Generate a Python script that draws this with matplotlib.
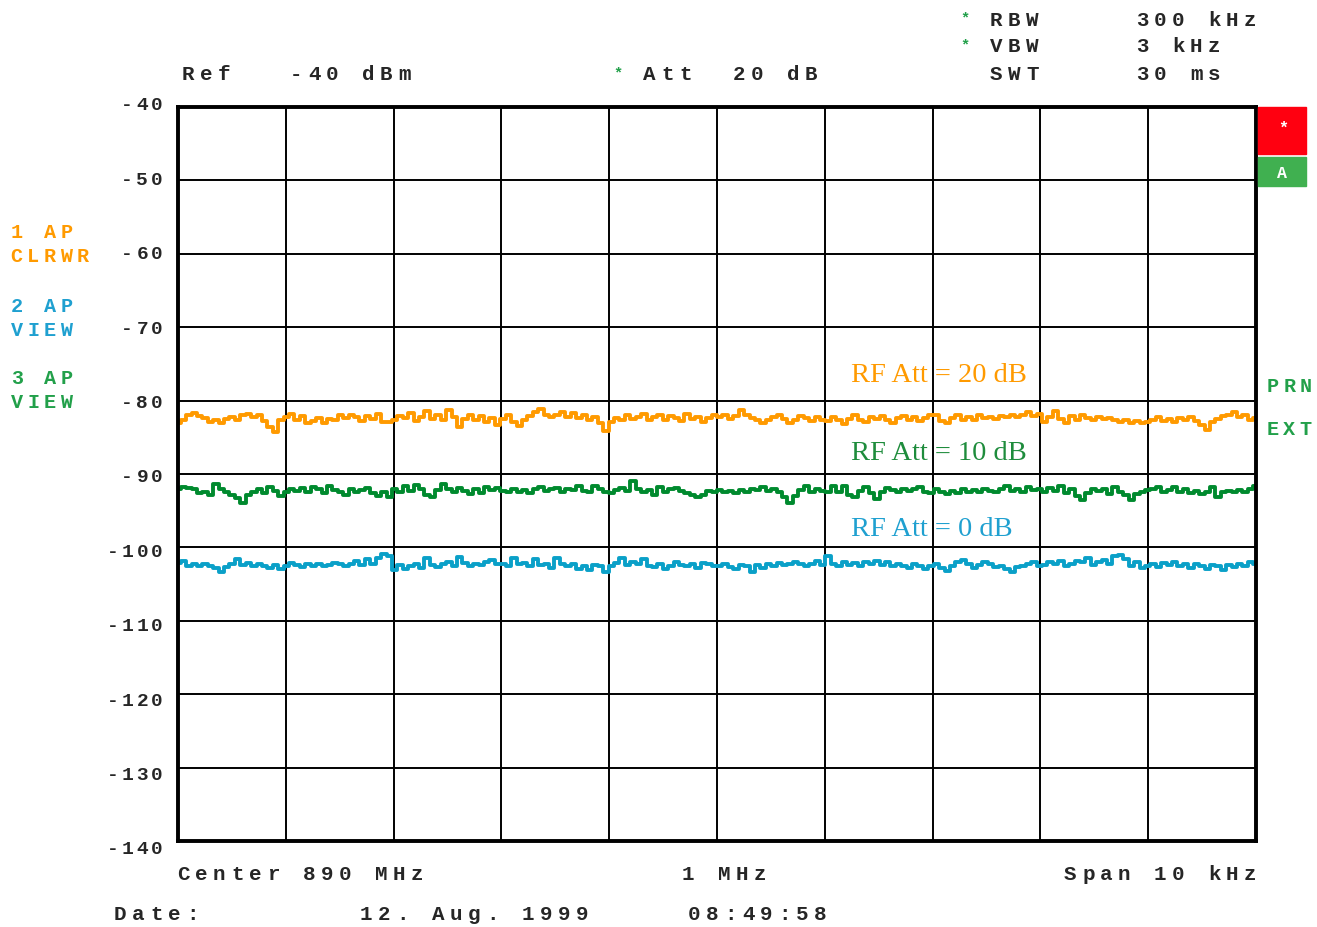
import numpy as np
import matplotlib.pyplot as plt
from matplotlib.patches import Rectangle

trace1_att20 = [
    -83.0, -82.6, -81.9, -81.7, -82.1, -82.4, -82.9, -82.6, -83.0, -82.5, -82.2, -82.6, -82.0, -81.8, -82.3, -82.0, -82.8, -83.6, -84.3, -82.6,
    -82.2, -81.8, -82.6, -82.1, -83.1, -82.8, -82.4, -83.0, -82.5, -82.7, -82.0, -82.4, -81.9, -82.3, -82.8, -82.1, -82.5, -81.8, -82.9, -82.9,
    -82.6, -82.1, -82.4, -81.7, -82.8, -82.2, -81.4, -82.5, -82.0, -82.6, -81.3, -82.2, -83.6, -82.5, -81.9, -82.7, -82.1, -82.9, -82.4, -83.3,
    -82.5, -82.0, -82.9, -83.4, -82.6, -82.1, -81.5, -81.1, -81.9, -82.3, -82.0, -81.6, -82.2, -81.7, -82.4, -82.0, -82.6, -82.3, -83.0, -84.1,
    -82.9, -82.4, -82.6, -82.0, -82.5, -82.2, -81.8, -82.7, -82.3, -81.9, -82.6, -82.1, -82.4, -82.8, -81.8, -82.5, -82.2, -82.9, -82.4, -82.0,
    -82.3, -81.9, -82.5, -82.1, -81.3, -82.0, -82.4, -82.7, -83.1, -82.6, -82.2, -81.9, -82.5, -83.0, -82.6, -82.1, -82.4, -82.8, -82.3, -82.6,
    -82.8, -82.3, -82.7, -83.2, -82.5, -82.0, -82.6, -82.9, -82.2, -82.5, -82.1, -82.7, -83.0, -82.4, -82.1, -82.6, -82.3, -82.8, -82.4, -82.0,
    -81.9, -82.8, -83.1, -82.4, -82.0, -82.7, -82.3, -82.6, -82.0, -82.4, -82.2, -82.5, -82.1, -82.3, -81.9, -82.2, -82.0, -81.6, -82.1, -81.8,
    -82.9, -82.2, -81.4, -82.5, -83.0, -82.1, -82.6, -81.9, -82.4, -82.7, -82.2, -82.5, -82.4, -82.7, -82.9, -82.6, -83.0, -82.8, -83.1, -82.9,
    -82.6, -82.3, -82.8, -82.5, -82.9, -82.4, -82.7, -82.2, -82.8, -83.3, -84.0, -82.9, -82.5, -82.1, -81.9, -81.5, -82.2, -81.9, -82.6, -82.4,
]
trace3_att10 = [
    -92.1, -91.8, -91.9, -92.0, -92.6, -92.4, -92.9, -91.3, -92.0, -92.5, -92.8, -93.3, -94.0, -92.9, -92.4, -92.1, -92.6, -91.8, -92.3, -93.0,
    -92.4, -92.0, -92.3, -91.9, -92.5, -91.8, -92.1, -92.6, -91.7, -92.2, -92.4, -92.9, -92.0, -92.5, -92.2, -91.9, -92.6, -93.0, -92.4, -93.1,
    -92.0, -92.4, -91.7, -92.3, -91.5, -92.1, -92.8, -93.1, -92.2, -91.4, -92.0, -92.5, -91.9, -92.3, -92.7, -92.1, -92.6, -91.8, -92.2, -91.9,
    -92.3, -92.5, -92.0, -92.4, -92.2, -92.6, -92.0, -91.8, -92.3, -92.1, -91.9, -92.4, -92.0, -92.2, -91.7, -92.3, -92.5, -91.6, -92.0, -92.4,
    -92.6, -92.2, -91.9, -92.3, -91.0, -92.1, -92.5, -92.2, -92.8, -91.8, -92.4, -92.1, -91.9, -92.3, -92.6, -92.9, -93.2, -92.8, -92.3, -92.4,
    -92.2, -92.5, -92.3, -92.6, -92.2, -92.5, -92.0, -92.2, -91.8, -92.3, -92.1, -92.4, -93.2, -94.0, -93.0, -92.2, -91.7, -92.4, -92.0, -92.3,
    -92.5, -91.6, -92.4, -91.7, -92.8, -93.2, -92.3, -91.8, -92.6, -93.4, -92.5, -91.9, -92.2, -92.4, -92.1, -92.3, -92.0, -91.8, -92.4, -92.6,
    -92.0, -92.4, -92.7, -92.3, -92.6, -92.1, -92.5, -92.2, -92.4, -92.0, -92.3, -92.5, -92.1, -91.7, -92.3, -92.0, -92.4, -91.8, -92.2, -92.1,
    -92.5, -91.9, -92.3, -91.7, -92.6, -92.1, -93.0, -93.5, -92.6, -92.0, -92.3, -92.1, -92.7, -91.8, -92.4, -92.9, -93.6, -92.7, -92.4, -92.2,
    -92.0, -91.8, -92.5, -92.2, -91.8, -92.4, -92.1, -92.6, -92.3, -92.7, -92.4, -91.8, -93.1, -92.5, -92.3, -92.4, -92.2, -92.5, -92.1, -91.7,
]
trace2_att0 = [
    -102.1, -101.8, -102.5, -102.2, -102.6, -102.3, -102.5, -102.8, -103.3, -102.7, -102.2, -101.6, -102.4, -102.1, -102.6, -102.3, -102.5, -102.8, -102.4, -102.9,
    -102.6, -102.1, -102.4, -102.7, -102.3, -102.5, -102.2, -102.6, -102.4, -102.1, -102.3, -102.5, -102.2, -101.9, -102.4, -101.6, -102.3, -101.4, -100.9, -101.2,
    -103.1, -102.4, -103.0, -102.6, -102.2, -102.8, -101.5, -102.4, -102.7, -102.3, -102.0, -102.6, -101.3, -102.1, -102.5, -102.2, -102.4, -102.0, -101.7, -102.2,
    -102.2, -102.5, -101.4, -102.3, -102.1, -102.6, -101.6, -102.4, -102.2, -102.8, -101.5, -102.3, -102.6, -102.2, -102.9, -102.5, -103.1, -102.4, -102.6, -103.3,
    -102.6, -102.1, -101.5, -102.4, -102.0, -102.3, -101.6, -102.5, -102.7, -102.2, -103.0, -102.5, -102.0, -102.4, -102.6, -102.2, -102.8, -102.1, -102.3, -102.5,
    -102.5, -102.3, -102.7, -102.9, -102.4, -102.6, -103.3, -102.4, -102.8, -102.2, -102.5, -102.1, -102.4, -102.3, -102.0, -102.3, -102.6, -102.2, -101.9, -102.4,
    -101.2, -102.3, -102.6, -102.0, -102.4, -102.1, -102.5, -102.0, -102.3, -101.8, -102.4, -102.0, -102.5, -102.2, -102.6, -102.8, -102.3, -102.5, -102.9, -102.6,
    -102.3, -102.8, -103.2, -102.5, -102.0, -101.7, -102.2, -102.8, -102.4, -102.0, -102.3, -102.7, -102.5, -102.9, -103.4, -102.7, -102.5, -102.3, -102.0, -102.6,
    -102.4, -102.0, -102.3, -101.9, -102.5, -102.2, -101.8, -102.0, -101.5, -102.4, -102.0, -101.7, -102.2, -101.2, -101.0, -101.6, -102.5, -102.0, -102.8, -102.6,
    -102.3, -102.7, -102.1, -102.4, -102.0, -102.6, -102.3, -102.8, -102.2, -102.5, -102.9, -102.4, -102.6, -103.1, -102.4, -102.7, -102.2, -102.5, -102.0, -102.2,
]

ref_level = -40
y_ticks = [-40, -50, -60, -70, -80, -90, -100, -110, -120, -130, -140]
span_khz = 10
n_points = len(trace1_att20)

ORANGE = '#ff9a00'
GREEN_TR = '#008a2e'
BLUE_TR = '#0aa0c8'
GREEN_TXT = '#22a04a'
GREEN_ANN = '#1e8c3c'
BLUE_TXT = '#1fa0d0'
INK = '#262626'

W, H = 1317, 927
X0, X1, Y0, Y1 = 178, 1256, 107, 841
fig = plt.figure(figsize=(W / 100, H / 100), dpi=100)
ax = fig.add_axes([X0 / W, 1 - Y1 / H, (X1 - X0) / W, (Y1 - Y0) / H])

freq = np.linspace(-span_khz / 2, span_khz / 2, n_points)
ax.plot(freq, trace1_att20, color=ORANGE, lw=2.8, drawstyle='steps-mid', zorder=3)
ax.plot(freq, trace3_att10, color=GREEN_TR, lw=2.8, drawstyle='steps-mid', zorder=3)
ax.plot(freq, trace2_att0, color=BLUE_TR, lw=2.8, drawstyle='steps-mid', zorder=3)

ax.set_xlim(-span_khz / 2, span_khz / 2)
ax.set_ylim(-140, -40)
ax.set_xticks(np.linspace(-span_khz / 2, span_khz / 2, 11))
ax.set_yticks(y_ticks)
ax.tick_params(length=0, labelbottom=False, labelleft=False)
ax.grid(True, color='black', lw=1.4, zorder=4)
ax.set_axisbelow(False)
for s in ax.spines.values():
    s.set_linewidth(2.8)
    s.set_zorder(5)

mono = 'Liberation Mono'


def mtext(px, py, s, pitch=18, color=INK, size=15, weight='bold', right=False):
    # fixed-pitch text, one glyph at a time
    if right:
        px = px - len(s) * pitch
    for i, ch in enumerate(s):
        if ch == ' ':
            continue
        fig.text((px + i * pitch + pitch * 0.35) / W, 1 - py / H, ch, ha='center', va='center',
                 color=color, fontsize=size, fontweight=weight, family=mono)


# y tick labels
for v in y_ticks:
    gy = Y0 + (ref_level - v) / 100 * (Y1 - Y0)
    mtext(167, gy + (gy - Y0) * 0.0136 - 1, str(v), pitch=15, size=14, right=True)

# header
mtext(182, 75, 'Ref   -40 dBm')
mtext(612, 73, '*', color=GREEN_TXT, size=11)
mtext(643, 75, 'Att  20 dB')
mtext(959, 18, '*', color=GREEN_TXT, size=11)
mtext(990, 20, 'RBW')
mtext(1136, 20, '300 kHz')
mtext(959, 45, '*', color=GREEN_TXT, size=11)
mtext(990, 47, 'VBW')
mtext(1136, 47, '3 kHz')
mtext(990, 75, 'SWT')
mtext(1136, 75, '30 ms')

# trace labels on the left
mtext(11, 233, '1 AP', pitch=16.5, color=ORANGE, size=14.5)
mtext(11, 257, 'CLRWR', pitch=16.5, color=ORANGE, size=14.5)
mtext(11, 306, '2 AP', pitch=16.5, color=BLUE_TXT, size=14.5)
mtext(11, 330, 'VIEW', pitch=16.5, color=BLUE_TXT, size=14.5)
mtext(11, 378, '3 AP', pitch=16.5, color=GREEN_TXT, size=14.5)
mtext(11, 402, 'VIEW', pitch=16.5, color=GREEN_TXT, size=14.5)

# right side status
fig.patches.append(Rectangle((1258 / W, 1 - 154 / H), 48 / W, 47 / H,
                             transform=fig.transFigure, color='#ff0010'))
fig.patches.append(Rectangle((1258 / W, 1 - 186 / H), 48 / W, 29 / H,
                             transform=fig.transFigure, color='#40b050'))
fig.text(1283 / W, 1 - 128 / H, '*', ha='center', va='center', color='white',
         fontsize=12, fontweight='bold', family=mono)
fig.text(1282 / W, 1 - 173 / H, 'A', ha='center', va='center', color='white',
         fontsize=12, fontweight='bold', family=mono)
mtext(1267, 386, 'PRN', pitch=16.5, color=GREEN_TXT, size=14.5)
mtext(1267, 430, 'EXT', pitch=16.5, color=GREEN_TXT, size=14.5)

# footer
mtext(177, 875, 'Center 890 MHz')
mtext(682, 875, '1 MHz')
mtext(1262, 875, 'Span 10 kHz', right=True)
mtext(114, 915, 'Date:')
mtext(360, 915, '12. Aug. 1999')
mtext(688, 915, '08:49:58')

# attenuation annotations
serif = 'Liberation Serif'
for label, py, col in [('RF Att = 20 dB', 375, ORANGE),
                       ('RF Att = 10 dB', 453, GREEN_ANN),
                       ('RF Att = 0 dB', 530, BLUE_TXT)]:
    fig.text(851 / W, 1 - py / H, label, ha='left', va='center', color=col,
             fontsize=20.5, family=serif, zorder=1)

fig.savefig('out.png', dpi=100)
